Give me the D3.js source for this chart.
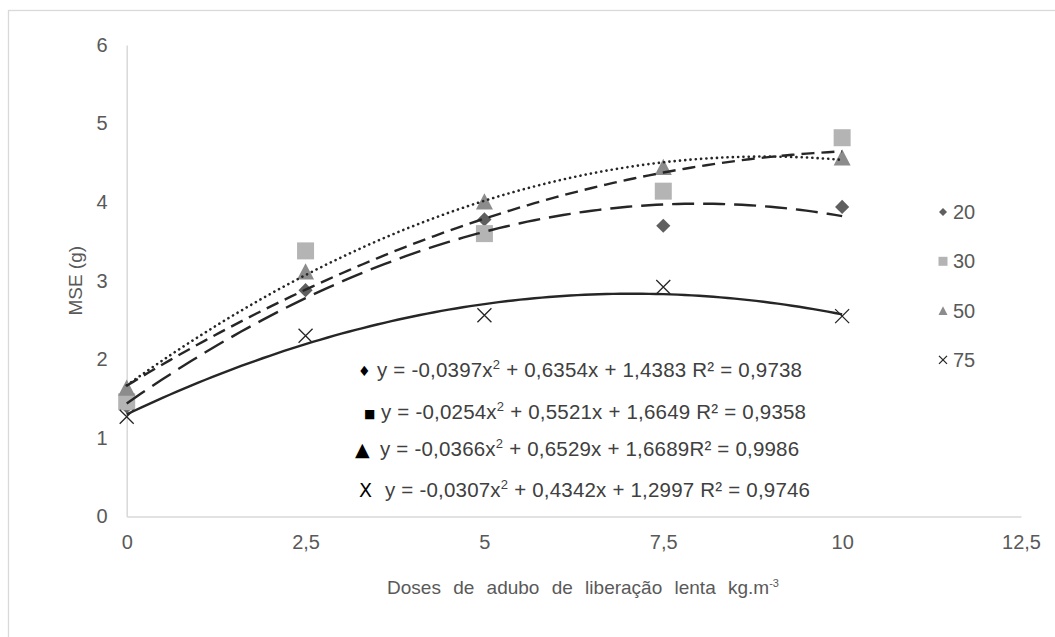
<!DOCTYPE html>
<html>
<head>
<meta charset="utf-8">
<script src="https://cdn.jsdelivr.net/npm/d3@7"></script>
<style>
  body { margin: 0; background: #fff; }
  svg { display: block; font-family: "Liberation Sans", Arial, sans-serif; }
</style>
</head>
<body>
<svg id="chart" width="1055" height="637"></svg>
<script>
"use strict";

// doses (kg.m-3) and MSE (g) per series
var doses = [0, 2.5, 5, 7.5, 10];
var mse20 = [1.40, 2.88, 3.78, 3.70, 3.94];
var mse30 = [1.46, 3.38, 3.60, 4.14, 4.82];
var mse50 = [1.64, 3.12, 4.01, 4.45, 4.57];
var mse75 = [1.27, 2.30, 2.56, 2.92, 2.55];
var seriesNames = ["20", "30", "50", "75"];

// trendline coefficients (a x^2 + b x + c) as printed on the chart
var trendA = [-0.0397, -0.0254, -0.0366, -0.0307];
var trendB = [0.6354, 0.5521, 0.6529, 0.4342];
var trendC = [1.4383, 1.6649, 1.6689, 1.2997];
var trendR2 = ["0,9738", "0,9358", "0,9986", "0,9746"];

var xTicks = [0, 2.5, 5, 7.5, 10, 12.5];
var yTicks = [0, 1, 2, 3, 4, 5, 6];

function showChart() {
  var svg = d3.select("#chart");
  var allSeries = [mse20, mse30, mse50, mse75];

  var x = d3.scaleLinear().domain([0, 12.5]).range([126.7, 1021]);
  var y = d3.scaleLinear().domain([0, 6]).range([516.5, 45]);
  var comma = function (d) { return String(d).replace(".", ","); };

  // outer chart border
  svg.append("rect")
    .attr("x", 8.5).attr("y", 10.5)
    .attr("width", 1060).attr("height", 640)
    .style("fill", "none").style("stroke", "#d9d9d9").style("stroke-width", 1.3);

  // axes (Excel style: light line, no ticks)
  var xAxis = svg.append("g").attr("transform", "translate(0," + y(0) + ")")
    .call(d3.axisBottom(x).tickValues(xTicks).tickSize(0).tickPadding(18).tickFormat(comma));
  var yAxis = svg.append("g").attr("transform", "translate(" + x(0) + ",0)")
    .call(d3.axisLeft(y).tickValues(yTicks).tickSize(0).tickPadding(19).tickFormat(comma));
  [xAxis, yAxis].forEach(function (ax) {
    ax.select(".domain").style("stroke", "#d9d9d9").style("stroke-width", 1.5);
    ax.selectAll("text").style("font-size", "20px").style("fill", "#595959")
      .style("font-family", "'Liberation Sans', Arial, sans-serif");
  });

  // axis titles
  svg.append("text")
    .attr("transform", "translate(82," + ((y(0) + y(6)) / 2) + ") rotate(-90)")
    .attr("text-anchor", "middle")
    .style("font-size", "19px").style("fill", "#595959")
    .text("MSE (g)");

  var xTitle = svg.append("text")
    .attr("x", 583).attr("y", 594)
    .attr("text-anchor", "middle")
    .style("font-size", "19px").style("word-spacing", "7px").style("fill", "#595959");
  xTitle.append("tspan").text("Doses de adubo de liberação lenta kg.m");
  xTitle.append("tspan").attr("dy", -7).style("font-size", "11px").text("-3");

  // marker shapes
  var markerFill = ["#5f5f5f", "#b4b4b4", "#8c8c8c", "none"];
  function drawMarker(g, i, size) {
    if (i === 0) {
      g.append("path").attr("d", d3.symbol(d3.symbolDiamond2, size * size * 0.5)())
        .style("fill", markerFill[0]);
    } else if (i === 1) {
      g.append("rect").attr("x", -size / 2).attr("y", -size / 2)
        .attr("width", size).attr("height", size).style("fill", markerFill[1]);
    } else if (i === 2) {
      var h = size * 0.95;
      g.append("path")
        .attr("d", "M0," + (-h / 2) + "L" + (size / 2) + "," + (h / 2) + "L" + (-size / 2) + "," + (h / 2) + "Z")
        .style("fill", markerFill[2]);
    } else {
      var r = size / 2;
      g.append("path")
        .attr("d", "M" + (-r) + "," + (-r) + "L" + r + "," + r + "M" + (-r) + "," + r + "L" + r + "," + (-r))
        .style("stroke", "#262626").style("stroke-width", 1.3).style("fill", "none");
    }
  }

  var markerSize = [16, 17, 17, 14];
  allSeries.forEach(function (vals, i) {
    svg.append("g").selectAll("g.pt")
      .data(vals)
      .enter().append("g")
      .attr("class", "pt")
      .attr("transform", function (d, k) { return "translate(" + x(doses[k]) + "," + y(d) + ")"; })
      .each(function () { drawMarker(d3.select(this), i, markerSize[i]); });
  });

  // polynomial trendlines drawn over markers
  var dashes = ["22,9", "13,7", "0.1,5.2", null];
  var line = d3.line().x(function (d) { return x(d[0]); }).y(function (d) { return y(d[1]); })
    .curve(d3.curveLinear);
  var xs = d3.range(0, 10.001, 0.1);
  seriesNames.forEach(function (name, i) {
    var pts = xs.map(function (v) { return [v, trendA[i] * v * v + trendB[i] * v + trendC[i]]; });
    svg.append("path")
      .attr("d", line(pts))
      .style("fill", "none")
      .style("stroke", "#262626")
      .style("stroke-width", i === 2 ? 2.6 : 2.4)
      .style("stroke-linecap", i === 2 ? "round" : "butt")
      .style("stroke-dasharray", dashes[i]);
  });

  // legend on the right
  var legend = svg.append("g");
  seriesNames.forEach(function (name, i) {
    var row = legend.append("g").attr("transform", "translate(943," + (212 + i * 49.3) + ")");
    drawMarker(row, i, i === 3 ? 8 : 9);
    row.append("text").attr("x", 10).attr("y", 7)
      .style("font-size", "20px").style("fill", "#595959").text(name);
  });

  // trendline equations
  var eqGlyph = ["\u2666", "\u25A0", "\u25B2", "X"];
  var eqGlyphX = [358, 364, 355, 359];
  var eqTextX = [377, 381, 380, 385];
  var eqBaseline = [377, 419, 456, 497];
  var glyphSize = ["14px", "12px", "19px", "19px"];
  function fmt(v) { return Math.abs(v).toFixed(4).replace(".", ","); }
  seriesNames.forEach(function (name, i) {
    svg.append("text").attr("x", eqGlyphX[i]).attr("y", eqBaseline[i] - (i < 2 ? 1 : 0))
      .style("font-size", glyphSize[i]).style("fill", "#000")
      .style("font-family", "'DejaVu Sans', sans-serif")
      .text(eqGlyph[i]);
    var t = svg.append("text").attr("x", eqTextX[i]).attr("y", eqBaseline[i])
      .style("font-size", "20.5px").style("letter-spacing", "0.2px").style("fill", "#404040");
    t.append("tspan").text("y = -" + fmt(trendA[i]) + "x");
    t.append("tspan").attr("dy", -8).style("font-size", "13px").text("2");
    t.append("tspan").attr("dy", 8)
      .text((i === 3 ? " + " : "  + ") + fmt(trendB[i]) + "x + " + fmt(trendC[i]) +
        (i === 2 ? "" : " ") + "R\u00B2 = " + trendR2[i]);
  });
}

document.addEventListener("DOMContentLoaded", function () {
  showChart();
});
</script>
</body>
</html>
